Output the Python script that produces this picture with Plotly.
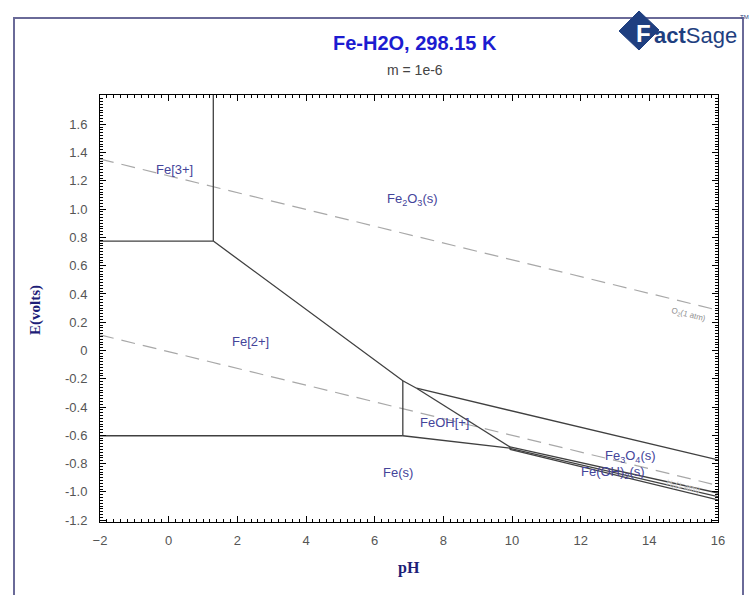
import plotly.graph_objects as go

# ---- data (pH, E in volts) ----
# phase boundaries (solid)
b_fe3_fe2_ph = [-2.0, 1.3]
b_fe3_fe2_e = [0.774, 0.774]
b_fe3_fe2o3_ph = [1.3, 1.3]
b_fe3_fe2o3_e = [0.774, 1.807]
b_fe2_fe2o3_ph = [1.3, 6.82, 7.22]
b_fe2_fe2o3_e = [0.774, -0.214, -0.267]
b_fe2_feoh_ph = [6.82, 6.82]
b_fe2_feoh_e = [-0.214, -0.603]
b_fe2_fe_ph = [-2.0, 6.82]
b_fe2_fe_e = [-0.603, -0.603]
b_feoh_fe3o4_ph = [7.22, 9.94]
b_feoh_fe3o4_e = [-0.267, -0.682]
b_fe2o3_fe3o4_ph = [7.22, 16.0]
b_fe2o3_fe3o4_e = [-0.267, -0.774]
b_feoh_fe_ph = [6.82, 9.94]
b_feoh_fe_e = [-0.603, -0.690]
b_fe3o4_feoh2_ph = [9.94, 16.0]
b_fe3o4_feoh2_e = [-0.682, -1.008]
b_feoh2_mid_ph = [9.94, 9.94]
b_feoh2_mid_e = [-0.682, -0.700]
b_feoh2_a_ph = [9.94, 16.0]
b_feoh2_a_e = [-0.692, -1.034]
b_feoh2_fe_ph = [9.94, 16.0]
b_feoh2_fe_e = [-0.700, -1.057]

# water stability lines (dashed)
o2_ph = [-2.0, 16.0]
o2_e = [1.354, 0.285]
h2_ph = [-2.0, 16.0]
h2_e = [0.110, -0.955]

# region labels
lab_text = ["Fe[3+]", "Fe<sub>2</sub>O<sub>3</sub>(s)", "Fe[2+]", "FeOH[+]", "Fe(s)",
            "Fe<sub>3</sub>O<sub>4</sub>(s)", "Fe(OH)<sub>2</sub>(s)"]
lab_ph = [0.18, 7.09, 2.37, 8.05, 6.68, 13.44, 12.94]
lab_e = [1.277, 1.07, 0.067, -0.51, -0.866, -0.75, -0.86]

x_ticks = [-2, 0, 2, 4, 6, 8, 10, 12, 14, 16]
y_ticks = [-1.2, -1.0, -0.8, -0.6, -0.4, -0.2, 0, 0.2, 0.4, 0.6, 0.8, 1.0, 1.2, 1.4, 1.6]
y_ticktext = ["-1.2", "-1.0", "-0.8", "-0.6", "-0.4", "-0.2", "0", "0.2", "0.4", "0.6",
              "0.8", "1.0", "1.2", "1.4", "1.6"]

W, H = 752, 595
L, R, T, B = 100, 34, 95, 73
PW, PH = W - L - R, H - T - B


def px(x):
    return (x - L) / PW


def py(y):
    return (H - B - y) / PH


fig = go.Figure()

solid = [
    (b_fe3_fe2_ph, b_fe3_fe2_e), (b_fe3_fe2o3_ph, b_fe3_fe2o3_e),
    (b_fe2_fe2o3_ph, b_fe2_fe2o3_e), (b_fe2_feoh_ph, b_fe2_feoh_e),
    (b_fe2_fe_ph, b_fe2_fe_e), (b_feoh_fe3o4_ph, b_feoh_fe3o4_e),
    (b_fe2o3_fe3o4_ph, b_fe2o3_fe3o4_e), (b_feoh_fe_ph, b_feoh_fe_e),
    (b_fe3o4_feoh2_ph, b_fe3o4_feoh2_e), (b_feoh2_mid_ph, b_feoh2_mid_e),
    (b_feoh2_a_ph, b_feoh2_a_e), (b_feoh2_fe_ph, b_feoh2_fe_e),
]
for xs, ys in [(o2_ph, o2_e), (h2_ph, h2_e)]:
    fig.add_trace(go.Scatter(x=xs, y=ys, mode="lines", hoverinfo="skip",
                             line=dict(color="#a8a8a8", width=1.2, dash="14px,8px")))
for xs, ys in solid:
    fig.add_trace(go.Scatter(x=xs, y=ys, mode="lines", hoverinfo="skip",
                             line=dict(color="#404040", width=1.3)))

for t, xv, yv in zip(lab_text, lab_ph, lab_e):
    fig.add_annotation(x=xv, y=yv, text=t, showarrow=False, xanchor="center", yanchor="middle",
                       font=dict(family="Liberation Sans", size=13, color="#44449a"))

fig.add_annotation(x=15.13, y=0.251, text="O<sub>2</sub>(1 atm)", showarrow=False, textangle=14,
                   xanchor="center", yanchor="middle",
                   font=dict(family="Liberation Sans", size=8, color="#909090"))
fig.add_annotation(x=15.0, y=-0.965, text="H<sub>2</sub>(1 atm)", showarrow=False, textangle=14,
                   xanchor="center", yanchor="middle",
                   font=dict(family="Liberation Sans", size=8, color="#c8c8c8"))


def paper_text(x, y, text, size, color, family="Liberation Sans", angle=0, xanchor="center"):
    fig.add_annotation(xref="paper", yref="paper", x=px(x), y=py(y), text=text,
                       showarrow=False, xanchor=xanchor, yanchor="middle", textangle=angle,
                       font=dict(family=family, size=size, color=color))


# titles
paper_text(415, 43, "<b>Fe-H2O, 298.15 K</b>", 20, "#1c1cd0")
paper_text(415, 70, "m = 1e-6", 14, "#444444")
paper_text(409, 568, "<b>pH</b>", 16, "#1e1e78", family="Liberation Serif")
paper_text(35, 310, "<b>E(volts)</b>", 15, "#1e1e78", family="Liberation Serif", angle=-90)

# outer frame
fig.add_shape(type="rect", xref="paper", yref="paper", x0=px(14), y0=py(600), x1=px(743), y1=py(18),
              line=dict(color="#6a6a98", width=2), layer="below")

# logo
diamond = "M {} {} L {} {} L {} {} L {} {} Z".format(
    px(619), py(31), px(639), py(11), px(659), py(30), px(639), py(50))
fig.add_shape(type="path", xref="paper", yref="paper", path=diamond, layer="below",
              fillcolor="#1f3f80", line=dict(color="#1f3f80", width=1))
paper_text(643, 33, "<b>F</b>", 24, "white")
paper_text(652, 35, "<b>act</b>Sage", 22, "#1f3f80", xanchor="left")
paper_text(744, 17, "TM", 6, "#1f3f80")

axis_common = dict(showline=True, linecolor="black", linewidth=1, mirror="allticks",
                   ticks="inside", ticklen=6, tickcolor="black", showgrid=False, zeroline=False,
                   tickfont=dict(family="Liberation Sans", size=13, color="#555555"))
fig.update_xaxes(range=[-2, 16], tickvals=x_ticks, ticklabelstandoff=6,
                 minor=dict(dtick=0.2, ticklen=3, ticks="inside", tickcolor="black"),
                 **axis_common)
fig.update_yaxes(range=[-1.213, 1.807], tickvals=y_ticks, ticktext=y_ticktext, ticklabelstandoff=9,
                 minor=dict(dtick=0.02, ticklen=3, ticks="inside", tickcolor="black"),
                 **axis_common)

fig.update_layout(width=W, height=H, margin=dict(l=L, r=R, t=T, b=B),
                  paper_bgcolor="white", plot_bgcolor="white", showlegend=False)

fig.write_html("out.html", config={"displayModeBar": False},
               post_script="document.body.style.margin='0';")
